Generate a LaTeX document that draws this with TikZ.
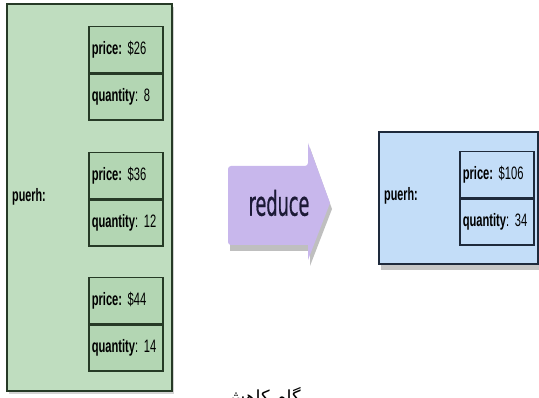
\documentclass[tikz,border=0pt]{standalone}
\usepackage{graphicx}
\usepackage{fontspec}
\setmainfont{Liberation Sans}
\newfontfamily\reducefont[FakeStretch=0.52,FakeBold=0.6]{DejaVu Sans}
\newfontfamily\arabicfont[Script=Arabic]{DejaVu Sans}
\TeXXeTstate=1
\usetikzlibrary{shadows}
\definecolor{gfill}{HTML}{BFDDBF}
\definecolor{gin}{HTML}{B3D6B3}
\definecolor{gline}{HTML}{263A26}
\definecolor{bfill}{HTML}{C3DDF8}
\definecolor{bline}{HTML}{1E2A3C}
\definecolor{pfill}{HTML}{C8B7EC}
\definecolor{ptext}{HTML}{1C1A36}
\newcommand{\nar}[1]{\scalebox{0.62}[1]{#1}}
\tikzset{
  outerg/.style={draw=gline, line width=1.8pt, fill=gfill, drop shadow={shadow xshift=2pt, shadow yshift=-3pt, opacity=0.35}},
  outerb/.style={draw=bline, line width=1.8pt, fill=bfill, drop shadow={shadow xshift=2pt, shadow yshift=-6pt, opacity=0.45}},
  cell/.style={draw=gline, line width=1.5pt, fill=gin, minimum width=74pt, minimum height=46pt, inner sep=0pt, font=\fontsize{18}{20}\selectfont, align=left, text width=68pt},
  bcell/.style={cell, draw=bline, fill=bfill},
  lbl/.style={font=\bfseries\fontsize{18}{20}\selectfont, anchor=west, inner sep=0pt},
}
\begin{document}
\begin{tikzpicture}[x=1pt,y=-1pt]
\useasboundingbox (0,0) rectangle (539,398);
\clip (0,0) rectangle (539,398);
% left green container
\node[outerg, minimum width=165pt, minimum height=387pt, anchor=north west] (left) at (6,3) {};
\node[cell, anchor=north west] (p1) at (88,26) {\nar{\textbf{price:} \$26}};
\node[cell, anchor=north] (q1) at (p1.south) {\nar{\textbf{quantity}: 8}};
\node[cell, anchor=north west] (p2) at (88,152) {\nar{\textbf{price:} \$36}};
\node[cell, anchor=north] (q2) at (p2.south) {\nar{\textbf{quantity}: 12}};
\node[cell, anchor=north west] (p3) at (88,277) {\nar{\textbf{price:} \$44}};
\node[cell, anchor=north] (q3) at (p3.south) {\nar{\textbf{quantity}: 14}};
\node[lbl] (pl) at (12,197) {\scalebox{0.6}[1]{puerh:}};
% arrow
\fill[black, opacity=0.25] (230,171) -- (310,171) -- (310,148) -- (332,209) -- (310,266) -- (310,251) -- (230,251) -- cycle;
\fill[pfill, rounded corners=3pt] (228,166) -- (308,166) [sharp corners] -- (308,143) -- (330,203) -- (308,260) -- (308,245) [rounded corners=3pt] -- (228,245) -- cycle;
\node[font=\reducefont\fontsize{34}{36}\selectfont, text=ptext] (red) at (279,203) {reduce};
% right blue container
\node[outerb, minimum width=159pt, minimum height=132pt, anchor=north west] (right) at (378,131) {};
\node[bcell, anchor=north west] (p4) at (459,151) {\nar{\textbf{price:} \$106}};
\node[bcell, anchor=north] (q4) at (p4.south) {\nar{\textbf{quantity}: 34}};
\node[lbl] (pr) at (384,196) {\scalebox{0.6}[1]{puerh:}};
% caption (cut off at the bottom edge, as in the reference)
\node[font=\arabicfont\fontsize{18}{20}\selectfont, anchor=north] (cap) at (262,384) {\beginR گام کاهش\endR};
\end{tikzpicture}
\end{document}
